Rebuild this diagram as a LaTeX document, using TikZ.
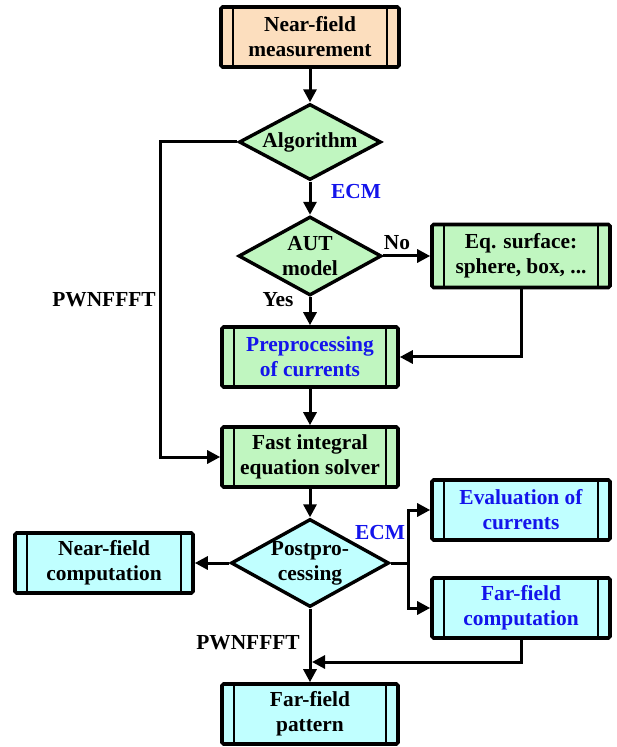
\documentclass[tikz,border=0pt]{standalone}
\usepackage{fontspec}
\setmainfont{Liberation Serif}
\usetikzlibrary{shapes.geometric,arrows.meta}
\definecolor{peach}{RGB}{252,222,190}
\definecolor{lgreen}{RGB}{192,246,192}
\definecolor{lcyan}{RGB}{192,255,255}
\definecolor{tblue}{RGB}{20,20,235}
\begin{document}
\begin{tikzpicture}[x=0.5pt,y=-0.5pt,
  font=\fontsize{10.7}{12.5}\selectfont\bfseries,
  proc/.style={draw, line width=1.8pt, rounded corners=0.8pt, minimum width=89pt,
    minimum height=30pt, inner sep=0pt, align=center,
    path picture={\draw[line width=1.4pt]
      ([xshift=6pt]path picture bounding box.north west) -- ([xshift=6pt]path picture bounding box.south west)
      ([xshift=-6pt]path picture bounding box.north east) -- ([xshift=-6pt]path picture bounding box.south east);}},
  dia/.style={diamond, draw, line width=1.7pt, inner sep=0pt},
  arr/.style={-{Triangle[length=6.5pt,width=6.5pt]}, line width=1.5pt},
  conn/.style={line width=1.5pt},
  lbl/.style={inner sep=0pt}]
\useasboundingbox (0,0) rectangle (616,747);
% nodes
\node[proc, fill=peach] (nfm) at (310,37) {Near-field\\measurement};
\node[dia, fill=lgreen, minimum width=71pt, minimum height=38pt,
  label={center:Algorithm}] (alg) at (310,142) {};
\node[dia, fill=lgreen, minimum width=71.5pt, minimum height=39.5pt,
  label={[align=center]center:AUT\\model}] (aut) at (310,256) {};
\node[proc, fill=lgreen, minimum height=31.5pt] (eq) at (521,256) {Eq. surface:\\sphere, box, ...};
\node[proc, fill=lgreen, minimum width=88pt, text=tblue] (pre) at (310,357) {Preprocessing\\of currents};
\node[proc, fill=lgreen, minimum width=88pt] (fast) at (310,457) {Fast integral\\equation solver};
\node[dia, fill=lcyan, minimum width=79pt, minimum height=44pt,
  label={[align=center]center:Postpro-\\cessing}] (post) at (310,563) {};
\node[proc, fill=lcyan] (nfc) at (104,563) {Near-field\\computation};
\node[proc, fill=lcyan, text=tblue] (eval) at (521,510) {Evaluation of\\currents};
\node[proc, fill=lcyan, text=tblue] (ffc) at (521,608) {Far-field\\computation};
\node[proc, fill=lcyan, minimum width=88pt] (ffp) at (310,714) {Far-field\\pattern};
% labels
\node[lbl, text=tblue] (ecm1) at (356,192) {ECM};
\node[lbl] (no) at (397,243) {No};
\node[lbl] (yes) at (278,300) {Yes};
\node[lbl] (pw1) at (104,300) {PWNFFFT};
\node[lbl, text=tblue] (ecm2) at (380,533) {ECM};
\node[lbl] (pw2) at (248,643) {PWNFFFT};
% coordinates
\coordinate (pw) at (160,142);
\coordinate (br) at (408,563);
\coordinate (mrg) at (312,662);
% connectors
\draw[arr] (nfm.south) -- (alg.north);
\draw[arr] (alg.south) -- (aut.north);
\draw[arr] (aut.east) -- (eq.west);
\draw[arr] (aut.south) -- (pre.north);
\draw[arr] (eq.south) |- (pre.east);
\draw[arr] (pre.south) -- (fast.north);
\draw[arr] (alg.west) -- (pw) |- (fast.west);
\draw[arr] (fast.south) -- (post.north);
\draw[arr] (post.west) -- (nfc.east);
\draw[conn] (post.east) -- (br);
\draw[arr] (br) |- (eval.west);
\draw[arr] (br) |- (ffc.west);
\draw[arr] (post.south) -- (ffp.north);
\draw[arr] (ffc.south) |- (mrg);
\end{tikzpicture}
\end{document}
